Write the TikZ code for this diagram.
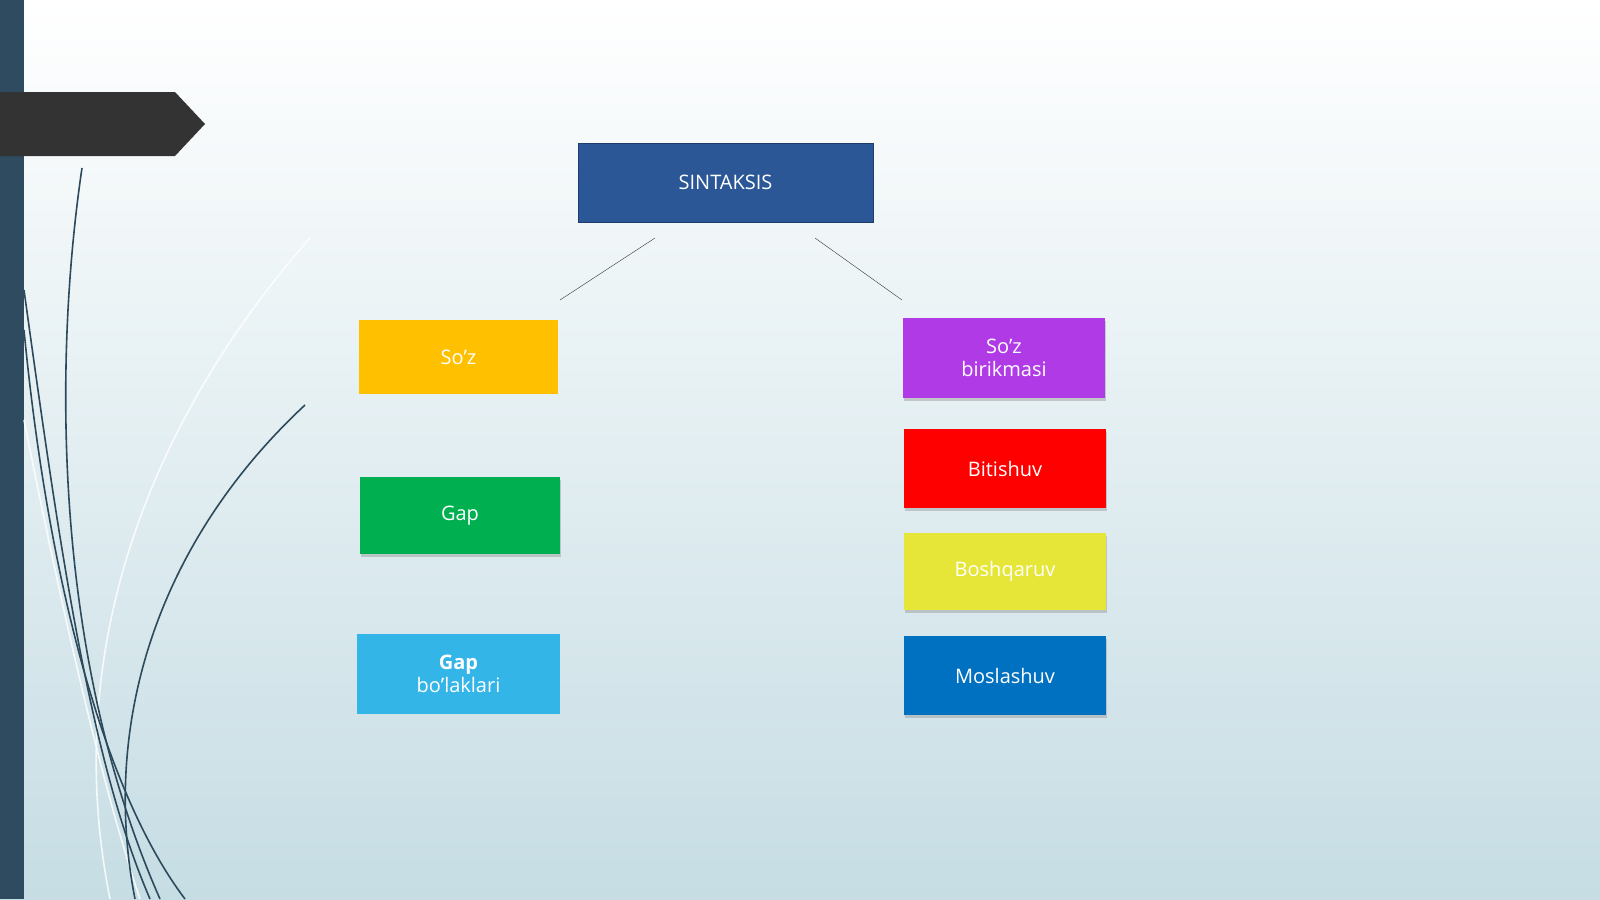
\documentclass[tikz,border=0pt]{standalone}
\usepackage{fontspec}
\setmainfont{Open Sans}
\usetikzlibrary{shadows}
\begin{document}
\begin{tikzpicture}[x=1pt,y=-1pt,
  box/.style={minimum width=#1, align=center, text=white, font=\fontsize{20}{23}\selectfont, inner sep=0pt},
  leaf/.style={drop shadow={shadow xshift=1pt,shadow yshift=-3pt,opacity=0.35}},
  curve/.style={draw=curvecol, line width=1.6pt},
  lcurve/.style={draw=white, line width=1.6pt, opacity=0.8}]
\definecolor{curvecol}{HTML}{2C4A5C}
\definecolor{bartop}{HTML}{2F4B5F}
\useasboundingbox (0,0) rectangle (1600,899);
\shade[top color=white, bottom color={rgb,255:red,198;green,221;blue,228}] (0,0) rectangle (1600,899);
\fill[bartop] (0,0) rectangle (24,899);
\fill[black!80] (0,92) -- (175,92) -- (205,124) -- (175,156) -- (0,156) -- cycle;
% curves
\draw[lcurve] (310,238) .. controls (150,420) and (60,650) .. (110,899);
\draw[lcurve] (24,420) .. controls (60,600) and (100,780) .. (140,899);
\draw[curve] (82,168) .. controls (55,350) and (50,650) .. (160,899);
\draw[curve] (24,290) .. controls (60,550) and (90,760) .. (150,899);
\draw[curve] (24,330) .. controls (50,600) and (110,800) .. (185,899);
\draw[curve] (305,405) .. controls (160,540) and (100,720) .. (135,899);
% root
\node[box=295pt, minimum height=79pt, fill={rgb,255:red,43;green,87;blue,151}, draw={rgb,255:red,30;green,60;blue,110}] (root) at (725.5,182.5) {SINTAKSIS};
\coordinate (l1) at (655,238); \coordinate (l2) at (560,300);
\coordinate (r1) at (815,238); \coordinate (r2) at (902,300);
\draw[black!80] (l1) -- (l2);
\draw[black!80] (r1) -- (r2);
% left
\node[box=199pt, minimum height=74pt, fill={rgb,255:red,255;green,192;blue,0}] (soz) at (458.5,357) {So’z};
\node[box=200pt, minimum height=77pt, fill={rgb,255:red,0;green,176;blue,80}, leaf] (gap) at (460,515.5) {Gap};
\node[box=203pt, minimum height=80pt, fill={rgb,255:red,51;green,181;blue,232}] (gapb) at (458.5,674) {\textbf{Gap}\\bo’laklari};
% right
\node[box=202pt, minimum height=80pt, fill={rgb,255:red,176;green,59;blue,230}, leaf] (birik) at (1004,358) {So’z\\birikmasi};
\node[box=202pt, minimum height=79pt, fill=red, leaf] (bit) at (1005,468.5) {Bitishuv};
\node[box=202pt, minimum height=77pt, fill={rgb,255:red,230;green,230;blue,57}, leaf] (bosh) at (1005,571.5) {Boshqaruv};
\node[box=202pt, minimum height=79pt, fill={rgb,255:red,0;green,112;blue,192}, leaf] (mos) at (1005,675.5) {Moslashuv};
\end{tikzpicture}
\end{document}
